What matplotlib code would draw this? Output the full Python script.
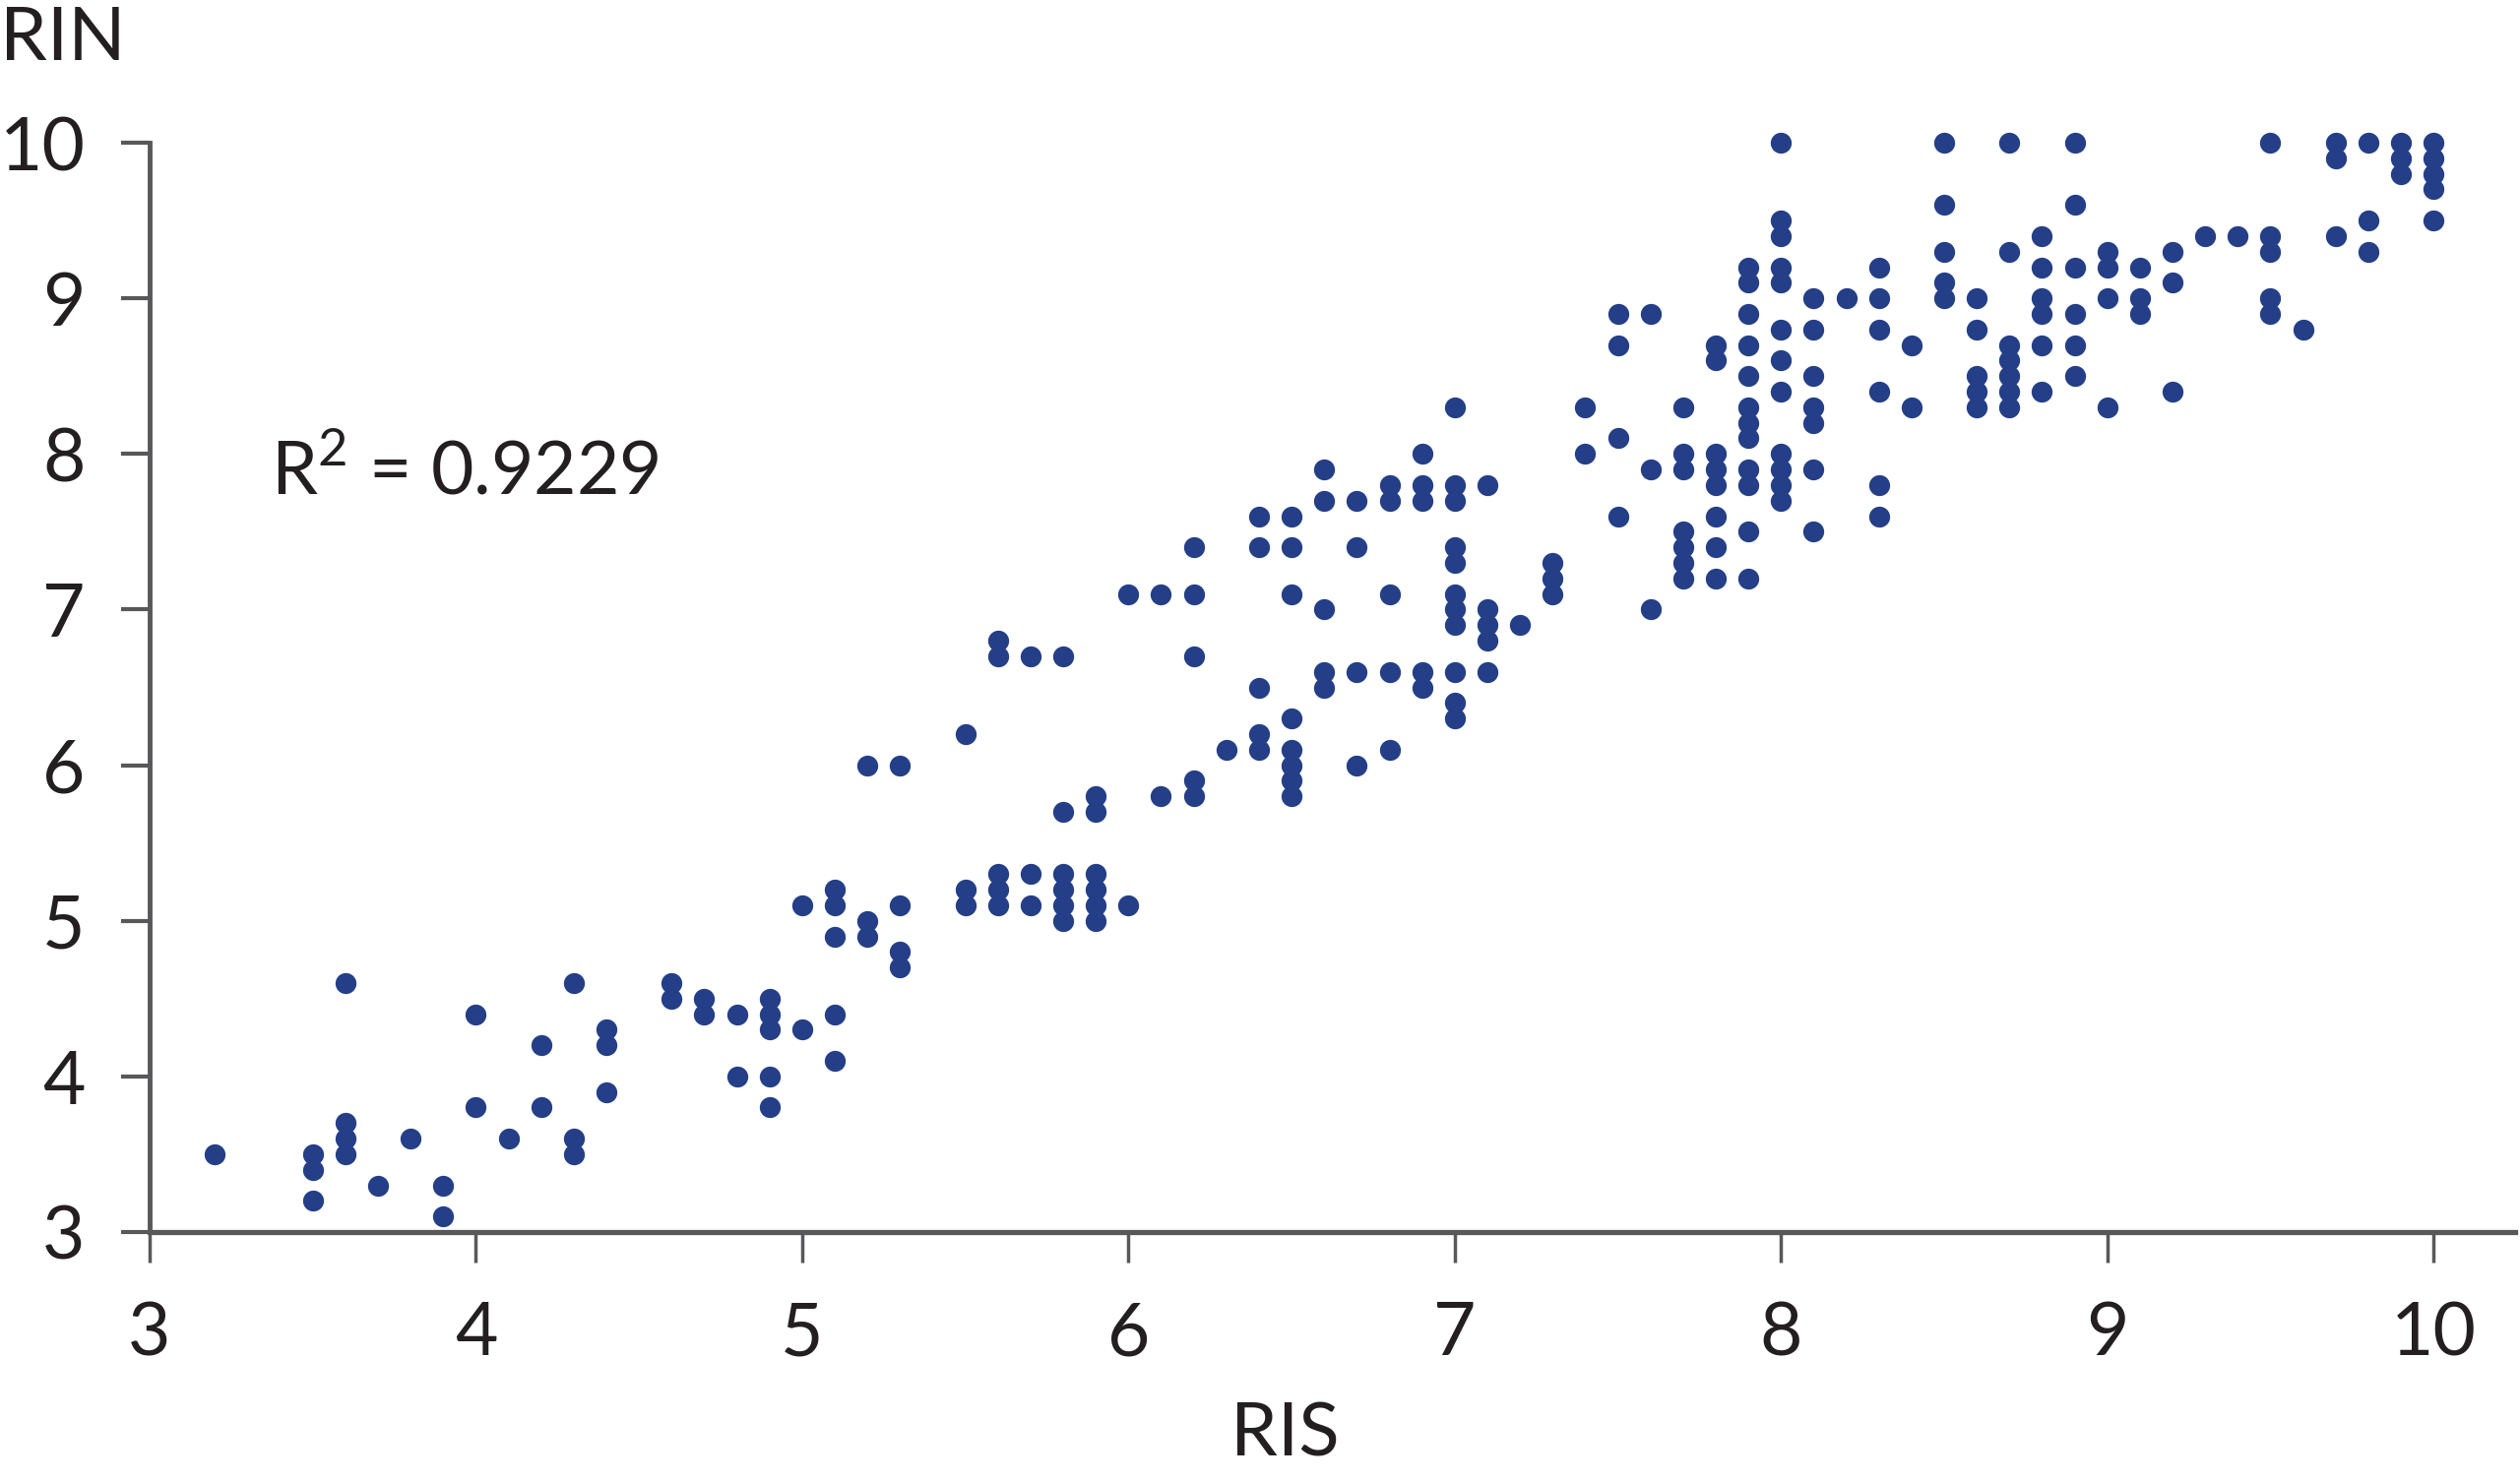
import numpy as np
import matplotlib.pyplot as plt

# RIS value (x) and the RIN values (y) observed at that RIS
ris_levels = [3.2, 3.5, 3.6, 3.7, 3.8, 3.9, 4.0, 4.1, 4.2, 4.3, 4.4, 4.6, 4.7, 4.8,
              4.9, 5.0, 5.1, 5.2, 5.3, 5.5, 5.6, 5.7, 5.8, 5.9, 6.0, 6.1, 6.2, 6.3,
              6.4, 6.5, 6.6, 6.7, 6.8, 6.9, 7.0, 7.1, 7.2, 7.3, 7.4, 7.5, 7.6, 7.7,
              7.8, 7.9, 8.0, 8.1, 8.2, 8.3, 8.4, 8.5, 8.6, 8.7, 8.8, 8.9, 9.0, 9.1,
              9.2, 9.3, 9.4, 9.5, 9.6, 9.7, 9.8, 9.9, 10.0]
rin_by_level = [
    [3.5],
    [3.5, 3.4, 3.2],
    [4.6, 3.7, 3.6, 3.5],
    [3.3],
    [3.6],
    [3.3, 3.1],
    [4.4, 3.8],
    [3.6],
    [4.2, 3.8],
    [4.6, 3.6, 3.5],
    [4.3, 4.2, 3.9],
    [4.6, 4.5],
    [4.5, 4.4],
    [4.4, 4.0],
    [4.5, 4.4, 4.3, 4.0, 3.8],
    [5.1, 4.3],
    [5.2, 5.1, 4.9, 4.4, 4.1],
    [6.0, 5.0, 4.9],
    [6.0, 5.1, 4.8, 4.7],
    [6.2, 5.2, 5.1],
    [6.8, 6.7, 5.3, 5.2, 5.1],
    [6.7, 5.3, 5.1],
    [6.7, 5.7, 5.3, 5.2, 5.1, 5.0],
    [5.8, 5.7, 5.3, 5.2, 5.1, 5.0],
    [7.1, 5.1],
    [7.1, 5.8],
    [7.4, 7.1, 6.7, 5.9, 5.8],
    [6.1],
    [7.6, 7.4, 6.5, 6.2, 6.1],
    [7.6, 7.4, 7.1, 6.3, 6.1, 6.0, 5.9, 5.8],
    [7.9, 7.7, 7.0, 6.6, 6.5],
    [7.7, 7.4, 6.6, 6.0],
    [7.8, 7.7, 7.1, 6.6, 6.1],
    [8.0, 7.8, 7.7, 6.6, 6.5],
    [8.3, 7.8, 7.7, 7.4, 7.3, 7.1, 7.0, 6.9, 6.6, 6.4, 6.3],
    [7.8, 7.0, 6.9, 6.8, 6.6],
    [6.9],
    [7.3, 7.2, 7.1],
    [8.3, 8.0],
    [8.9, 8.7, 8.1, 7.6],
    [8.9, 7.9, 7.0],
    [8.3, 8.0, 7.9, 7.5, 7.4, 7.3, 7.2],
    [8.7, 8.6, 8.0, 7.9, 7.8, 7.6, 7.4, 7.2],
    [9.2, 9.1, 8.9, 8.7, 8.5, 8.3, 8.2, 8.1, 7.9, 7.8, 7.5, 7.2],
    [10.0, 9.5, 9.4, 9.2, 9.1, 8.8, 8.6, 8.4, 8.0, 7.9, 7.8, 7.7],
    [9.0, 8.8, 8.5, 8.3, 8.2, 7.9, 7.5],
    [9.0],
    [9.2, 9.0, 8.8, 8.4, 7.8, 7.6],
    [8.7, 8.3],
    [10.0, 9.6, 9.3, 9.1, 9.0],
    [9.0, 8.8, 8.5, 8.4, 8.3],
    [10.0, 9.3, 8.7, 8.6, 8.5, 8.4, 8.3],
    [9.4, 9.2, 9.0, 8.9, 8.7, 8.4],
    [10.0, 9.6, 9.2, 8.9, 8.7, 8.5],
    [9.3, 9.2, 9.0, 8.3],
    [9.2, 9.0, 8.9],
    [9.3, 9.1, 8.4],
    [9.4],
    [9.4],
    [10.0, 9.4, 9.3, 9.0, 8.9],
    [8.8],
    [10.0, 9.9, 9.4],
    [10.0, 9.5, 9.3],
    [10.0, 9.9, 9.8],
    [10.0, 9.9, 9.8, 9.7, 9.5],
]
r2_text = 'R$^2$ = 0.9229'

ris = np.concatenate([[lv] * len(col) for lv, col in zip(ris_levels, rin_by_level)])
rin = np.concatenate(rin_by_level)

plt.rcParams['font.family'] = ['Lato', 'DejaVu Sans']
plt.rcParams['mathtext.fontset'] = 'custom'
plt.rcParams['mathtext.rm'] = 'Lato'

W, H = 2560, 1505
fig = plt.figure(figsize=(W / 100, H / 100), dpi=100)
ax = fig.add_axes([152 / W, 1 - 1252 / H, (2555 - 152) / W, (1252 - 145) / H])

dot = '#243f87'
axis_col = '#58585a'
txt = '#231f20'

ax.scatter(ris, rin, s=235, color=dot, linewidths=0, clip_on=False, zorder=3)

ax.set_xlim(3, 10.25)
ax.set_ylim(3, 10)
ax.set_xticks(range(3, 11))
ax.set_yticks(range(3, 11))

for s in ['top', 'right']:
    ax.spines[s].set_visible(False)
ax.spines['left'].set_bounds(3, 10)
ax.spines['left'].set_linewidth(3.5)
ax.spines['bottom'].set_linewidth(3.8)
ax.spines['left'].set_color(axis_col)
ax.spines['bottom'].set_color(axis_col)

ax.tick_params(axis='y', length=21, width=3, color=axis_col, pad=26,
               labelsize=54, labelcolor=txt)
ax.tick_params(axis='x', length=22, width=2.5, color=axis_col, pad=28,
               labelsize=54, labelcolor=txt)

ax.text(3.37, 7.74, r2_text, fontsize=54, color=txt, va='baseline', ha='left')

ax.set_xlabel('RIS', fontsize=55, color=txt)
ax.xaxis.set_label_coords(0.48, -0.155)
fig.text(0.0, 1 - 61 / H, 'RIN', fontsize=55, color=txt, va='baseline', ha='left')

fig.savefig('out.png', dpi=100, facecolor='white')
